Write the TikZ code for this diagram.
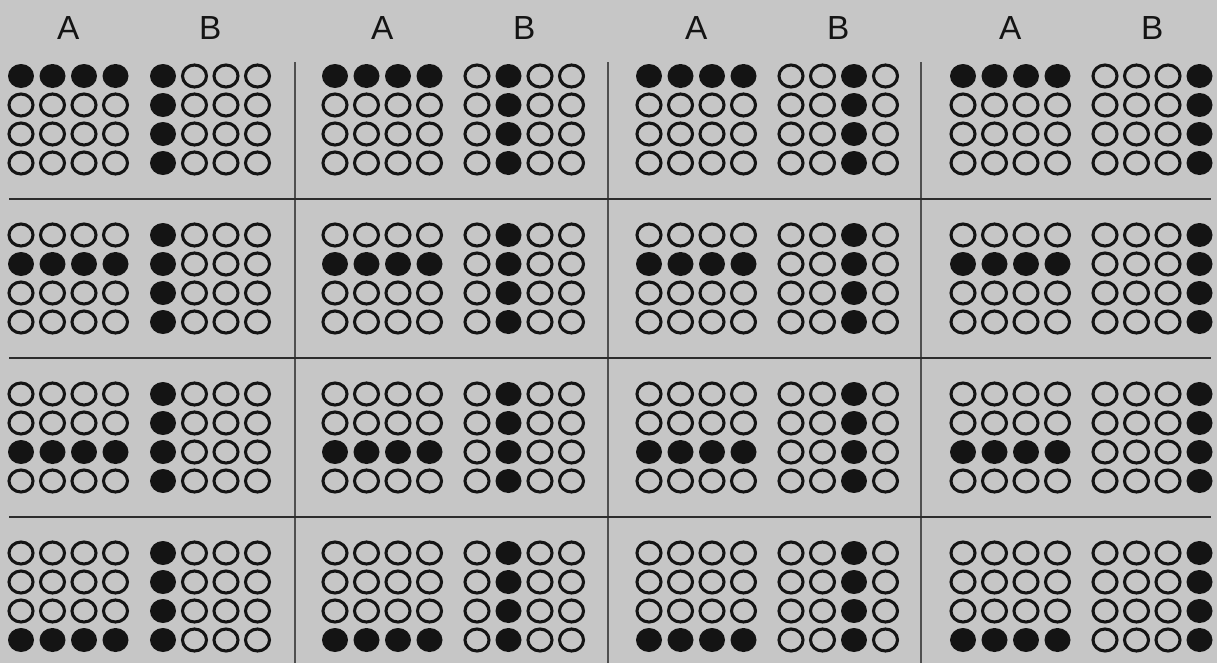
\documentclass[tikz,border=0pt]{standalone}
\usepackage{fontspec}
\setmainfont{Liberation Sans}
\usetikzlibrary{positioning}
\definecolor{scangray}{RGB}{198,198,198}
\definecolor{inkblack}{RGB}{20,20,20}

\begin{document}
\begin{tikzpicture}[x=0.02cm, y=-0.02cm,
    dot/.style={fill=inkblack},
    ring/.style={draw=inkblack, line width=1.75pt},
    hrule/.style={draw=inkblack!90, line width=1.4pt},
    vrule/.style={draw=inkblack!75, line width=0.9pt},
    head/.style={font=\fontsize{19}{22}\selectfont, text=inkblack}]
    \def\dx{31.5}   % circle pitch, across
    \def\dy{29}     % circle pitch, down
    \def\cw{314}    % cell width
    \def\ch{159}    % cell height
    \def\bo{142}    % grid B offset from grid A

    % Scanned page
    \fill[scangray] (0,0) rectangle (1217,663);
    \useasboundingbox (0,0) rectangle (1217,663);

    % Column headers
    \foreach \j in {0,...,3} {
        \node[head] (headA\j) at (21+\j*\cw+1.5*\dx, 28) {A};
        \node[head] (headB\j) at (21+\j*\cw+\bo+1.5*\dx, 28) {B};
    }

    % Cell separators
    \foreach \j in {0,...,2}
        \draw[vrule] (295+\j*313, 62) -- (295+\j*313, 663);
    \foreach \i in {0,...,2}
        \draw[hrule] (9, 199+\i*\ch) -- (1211, 199+\i*\ch);

    % Grids: A lights row i, B lights column j
    \foreach \i in {0,...,3}
    \foreach \j in {0,...,3}
    \foreach \r in {0,...,3}
    \foreach \c in {0,...,3} {
        \pgfmathsetmacro\xa{21+\j*\cw+\c*\dx}
        \pgfmathsetmacro\yy{76+\i*\ch+\r*\dy}
        \ifnum\r=\i
            \fill[dot] (\xa,\yy) circle[x radius=13, y radius=12];
        \else
            \draw[ring] (\xa,\yy) circle[x radius=12, y radius=11];
        \fi
        \ifnum\c=\j
            \fill[dot] (\xa+\bo,\yy) circle[x radius=13, y radius=12];
        \else
            \draw[ring] (\xa+\bo,\yy) circle[x radius=12, y radius=11];
        \fi
    }
\end{tikzpicture}
\end{document}
